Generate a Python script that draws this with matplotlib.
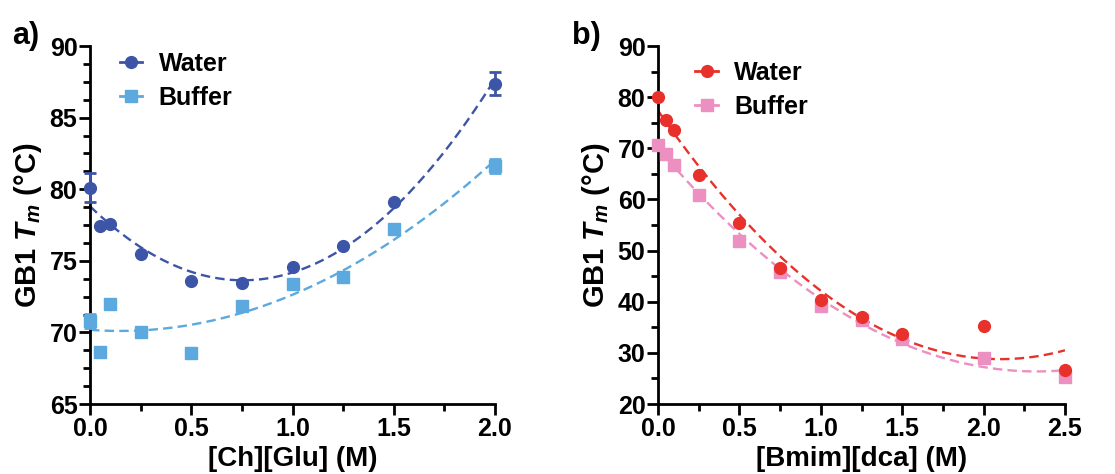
import numpy as np
import matplotlib
matplotlib.use("Agg")
import matplotlib.pyplot as plt
from matplotlib.ticker import MultipleLocator, FormatStrFormatter
from matplotlib.lines import Line2D

plt.rcParams['font.family'] = ['Liberation Sans', 'DejaVu Sans']
plt.rcParams['font.weight'] = 'bold'
plt.rcParams['mathtext.fontset'] = 'custom'
plt.rcParams['mathtext.it'] = 'Liberation Sans:bold:italic'
plt.rcParams['mathtext.rm'] = 'Liberation Sans:bold'

# Panel a data: [Ch][Glu]
conc_a = [0.0, 0.05, 0.1, 0.25, 0.5, 0.75, 1.0, 1.25, 1.5, 2.0]
water_a = [80.1, 77.45, 77.55, 75.45, 73.6, 73.47, 74.6, 76.05, 79.1, 87.35]
water_a_err = [1.0, 0, 0, 0, 0, 0, 0, 0, 0, 0.8]
buffer_a = [70.8, 68.6, 71.96, 70.05, 68.54, 71.84, 73.36, 73.87, 77.24, 81.64]
buffer_a_err = [0.5, 0, 0, 0, 0, 0, 0, 0, 0, 0.5]

# Panel b data: [Bmim][dca]
conc_b = [0.0, 0.05, 0.1, 0.25, 0.5, 0.75, 1.0, 1.25, 1.5, 2.0, 2.5]
water_b = [80.0, 75.6, 73.5, 64.85, 55.4, 46.5, 40.3, 37.1, 33.6, 35.3, 26.6]
buffer_b = [70.6, 68.8, 66.7, 60.9, 51.9, 45.8, 39.1, 36.4, 32.8, 29.0, 25.3]

c_wa, c_ba = '#3D55A7', '#5BA9DE'
c_wb, c_bb = '#E8312A', '#EC8FC1'

fig = plt.figure(figsize=(11.15, 4.74), dpi=100)
axa = fig.add_axes([90/1115, 1-404/474, 405/1115, 358/474])
axb = fig.add_axes([658/1115, 1-404/474, 407/1115, 358/474])


def fit_line(ax, x, y, color, xmax):
    p = np.polyfit(x, y, 2)
    xx = np.linspace(0, xmax, 200)
    ax.plot(xx, np.polyval(p, xx), '--', color=color, lw=1.7, dashes=(4, 2.2), zorder=2)


def style(ax, ylim, ymaj, ymin, xlim, xlabel):
    for s in ['top', 'right']:
        ax.spines[s].set_visible(False)
    for s in ['left', 'bottom']:
        ax.spines[s].set_linewidth(2.0)
    ax.set_ylim(*ylim)
    ax.set_xlim(*xlim)
    ax.yaxis.set_major_locator(MultipleLocator(ymaj))
    ax.yaxis.set_minor_locator(MultipleLocator(ymin))
    ax.xaxis.set_major_locator(MultipleLocator(0.5))
    ax.xaxis.set_minor_locator(MultipleLocator(0.25))
    ax.xaxis.set_major_formatter(FormatStrFormatter('%.1f'))
    ax.tick_params(which='major', direction='out', length=8, width=2.0, labelsize=18, pad=1)
    ax.tick_params(which='minor', direction='out', length=5, width=2.0)
    for lab in ax.get_xticklabels() + ax.get_yticklabels():
        lab.set_fontweight('bold')
    ax.set_xlabel(xlabel, fontsize=20, fontweight='bold', labelpad=4)
    ax.set_ylabel(r'GB1 $T_m$ (°C)', fontsize=21, fontweight='bold', labelpad=4)
    ax.patch.set_visible(False)


# Panel a
fit_line(axa, conc_a, water_a, c_wa, 2.0)
fit_line(axa, conc_a, buffer_a, c_ba, 2.0)
axa.errorbar(conc_a, water_a, yerr=water_a_err, fmt='o', color=c_wa, ms=8.5,
             capsize=4.5, capthick=2, elinewidth=2, zorder=4, clip_on=False)
axa.errorbar(conc_a, buffer_a, yerr=buffer_a_err, fmt='s', color=c_ba, ms=8,
             capsize=4.5, capthick=2, elinewidth=2, zorder=3, clip_on=False)
style(axa, (65, 90), 5, 1.25, (0, 2.0), '[Ch][Glu] (M)')

# Panel b
fit_line(axb, conc_b, water_b, c_wb, 2.5)
fit_line(axb, conc_b, buffer_b, c_bb, 2.5)
axb.plot(conc_b, buffer_b, 's', color=c_bb, ms=8, zorder=3, clip_on=False)
axb.plot(conc_b, water_b, 'o', color=c_wb, ms=8.5, zorder=4, clip_on=False)
style(axb, (20, 90), 10, 5, (0, 2.5), '[Bmim][dca] (M)')

for ax, cw, cb, loc in [(axa, c_wa, c_ba, (0.037, 1.025)), (axb, c_wb, c_bb, (0.055, 1.0))]:
    h = [Line2D([], [], color=cw, marker='o', ms=8.5, lw=2),
         Line2D([], [], color=cb, marker='s', ms=8, lw=2)]
    ax.legend(h, ['Water', 'Buffer'], loc='upper left', bbox_to_anchor=loc, frameon=False,
              prop={'size': 18, 'weight': 'bold'}, handlelength=0.9, handletextpad=0.65,
              labelspacing=0.4, borderaxespad=0.2)

fig.text(12/1115, 1-44/474, 'a)', fontsize=22, fontweight='bold')
fig.text(572/1115, 1-44/474, 'b)', fontsize=22, fontweight='bold')

fig.savefig('out.png', dpi=100)
